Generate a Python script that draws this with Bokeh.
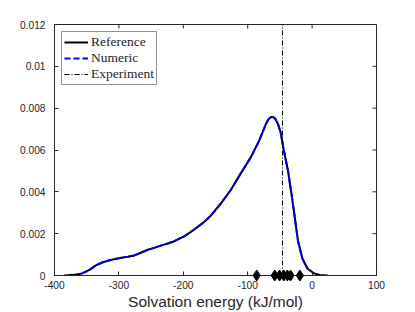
import math
from bokeh.plotting import figure
from bokeh.models import FixedTicker, Legend, LegendItem, Range1d
from bokeh.embed import file_html
from bokeh.resources import INLINE

# Data
ref_x = [-385, -370, -357, -345, -336, -326, -316, -306, -296, -286, -276, -265, -255, -245, -235, -224,
         -214, -198, -183, -168, -157, -142, -126, -111, -95, -82, -72, -68, -64, -60, -57, -53, -49, -44,
         -37.5, -32, -27, -22, -15, -7, 3, 12, 24]
ref_y = [0.0, 0.00003, 0.0001, 0.00028, 0.00048, 0.00062, 0.00072, 0.00079, 0.00085, 0.0009, 0.00096, 0.0011,
         0.00123, 0.00132, 0.00143, 0.00153, 0.00164, 0.00188, 0.0022, 0.00255, 0.00287, 0.00343, 0.0041,
         0.00487, 0.00566, 0.00646, 0.00722, 0.00746, 0.00758, 0.00757, 0.00748, 0.00724, 0.00686, 0.006,
         0.00502, 0.0039, 0.0028, 0.00167, 0.0008, 0.00032, 0.0001, 0.00002, 0.0]
num_x = ref_x[2:-3]
num_y = ref_y[2:-3]
experiment_x = -46
sample_x = [-86, -58, -50.5, -44, -38.5, -33.5, -19]
sample_y = [0, 0, 0, 0, 0, 0, 0]

x_ticks = [-400, -300, -200, -100, 0, 100]
x_tick_labels = ["-400", "-300", "-200", "-100", "0", "100"]
y_ticks = [0, 0.002, 0.004, 0.006, 0.008, 0.01, 0.012]
y_tick_labels = ["0", "0.002", "0.004", "0.006", "0.008", "0.01", "0.012"]
x_min, x_max = -400, 100
y_min, y_max = 0, 0.012

p = figure(frame_width=322, frame_height=251, output_backend="svg", toolbar_location=None,
           x_range=Range1d(x_min, x_max), y_range=Range1d(y_min, y_max),
           min_border_left=54, min_border_right=23, min_border_top=24, min_border_bottom=36)
p.xgrid.visible = False
p.ygrid.visible = False
p.outline_line_color = "#262626"
p.outline_line_width = 1
p.background_fill_color = "white"

font = "Liberation Sans"
for ax in [p.xaxis[0], p.yaxis[0]]:
    ax.axis_line_color = "#262626"
    ax.major_tick_line_color = "#262626"
    ax.major_tick_in = 4
    ax.major_tick_out = 0
    ax.minor_tick_line_color = None
    ax.major_label_text_font = font
    ax.major_label_text_font_size = "10.2px"
    ax.major_label_text_color = "#262626"

p.xaxis[0].major_label_standoff = 5
p.yaxis[0].major_label_standoff = 9
p.xaxis[0].ticker = FixedTicker(ticks=x_ticks)
p.yaxis[0].ticker = FixedTicker(ticks=y_ticks)
p.xaxis[0].major_label_overrides = {v: s for v, s in zip(x_ticks, x_tick_labels)}
p.yaxis[0].major_label_overrides = {v: s for v, s in zip(y_ticks, y_tick_labels)}
p.xaxis[0].axis_label = "Solvation energy (kJ/mol)"
p.xaxis[0].axis_label_text_font = font
p.xaxis[0].axis_label_text_font_size = "15.5px"
p.xaxis[0].axis_label_text_font_style = "normal"
p.xaxis[0].axis_label_text_color = "#262626"
p.xaxis[0].axis_label_standoff = 1

# inward ticks on the top and right frame edges
p.ray(x=x_ticks, y=[y_max] * len(x_ticks), length=4, length_units="screen",
      angle=-math.pi / 2, line_color="#262626", line_width=1)
p.ray(x=[x_max] * len(y_ticks), y=y_ticks, length=4, length_units="screen",
      angle=math.pi, line_color="#262626", line_width=1)

r_ref = p.line(ref_x, ref_y, line_color="black", line_width=2)
r_num = p.line(num_x, num_y, line_color="blue", line_width=2, line_dash="6 3")
r_exp = p.line([experiment_x, experiment_x], [y_min, y_max], line_color="black", line_width=1,
               line_dash="5 2 1 2")
p.scatter(sample_x, sample_y, marker="diamond", size=11, fill_color="black", line_color="black",
          level="overlay")

legend = Legend(items=[LegendItem(label="Reference", renderers=[r_ref]),
                       LegendItem(label="Numeric", renderers=[r_num]),
                       LegendItem(label="Experiment", renderers=[r_exp])],
                location="top_left", label_text_font="Liberation Serif",
                label_text_font_size="13.5px", label_text_color="#262626",
                border_line_color="#262626", border_line_width=1.5,
                glyph_width=24, glyph_height=16, label_height=16, spacing=0,
                padding=2, margin=7, label_standoff=3)
p.add_layout(legend)

open("out.html", "w").write(file_html(p, INLINE))
